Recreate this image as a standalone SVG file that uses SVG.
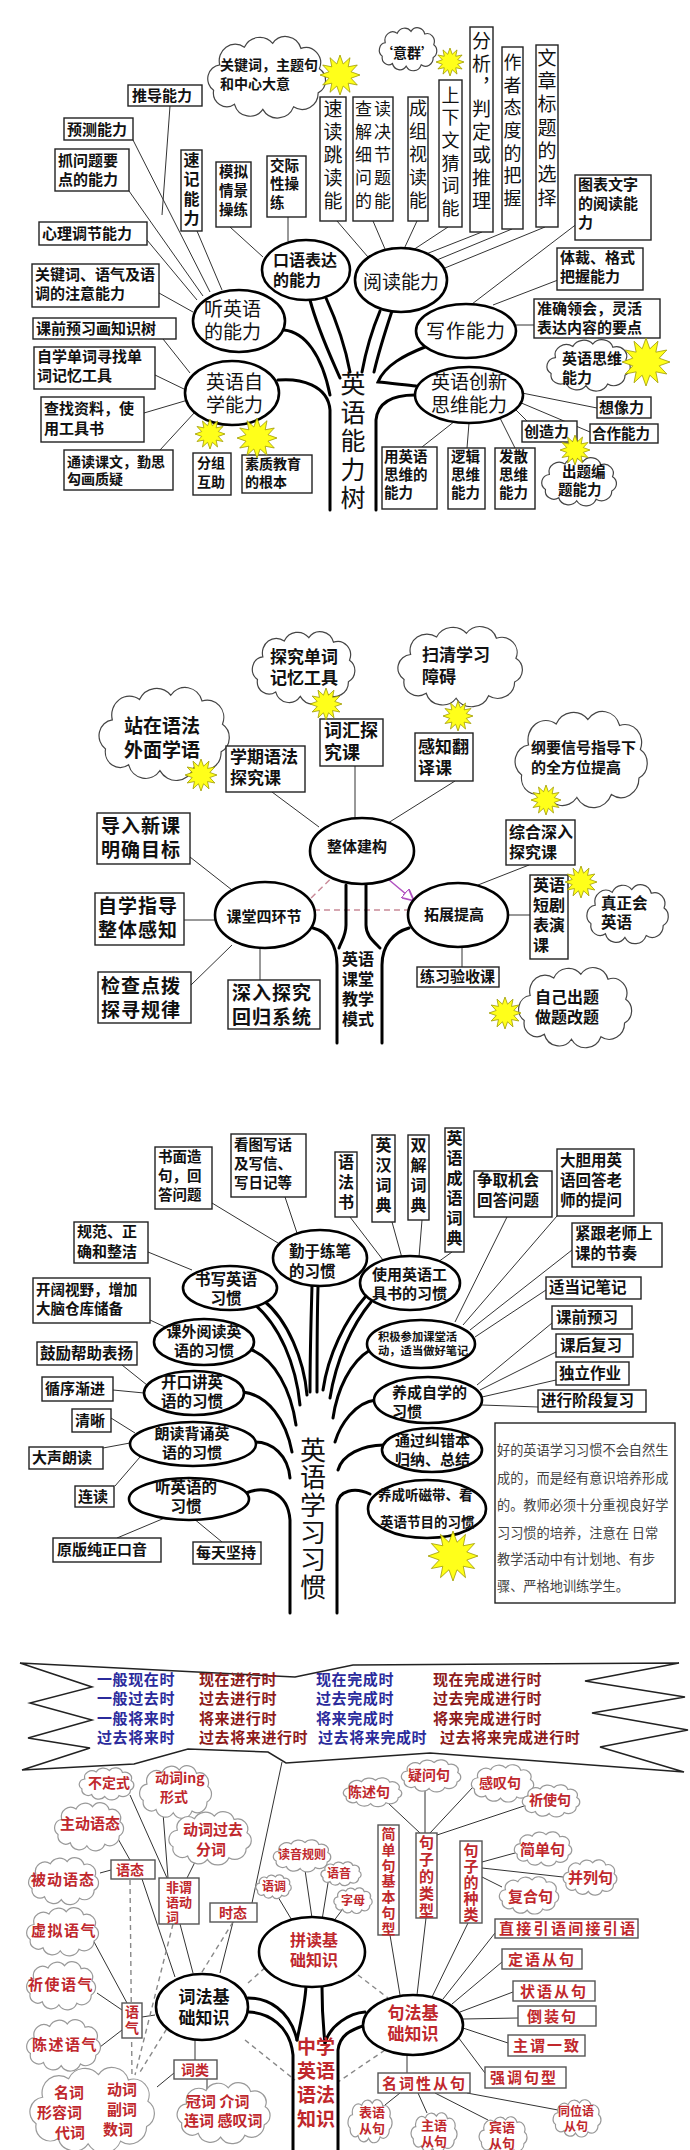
<svg xmlns="http://www.w3.org/2000/svg" width="690" height="2150" viewBox="0 0 690 2150">
<style>
.bx{fill:#fff;stroke:#222;stroke-width:1.4}
.bx2{fill:#fff;stroke:#555;stroke-width:1.4}
.el{fill:#fff;stroke:#000;stroke-width:2.6}
.cl{fill:#fff;stroke:#444;stroke-width:1.2}
.cl2{fill:#fff;stroke:#999;stroke-width:1.2}
.st{fill:#ffff1a;stroke:#a09a00;stroke-width:0.8}
.ln{fill:none;stroke:#333;stroke-width:1}
.br{fill:none;stroke:#000;stroke-width:3;stroke-linecap:round}
.ds{fill:none;stroke:#888;stroke-width:1.4;stroke-dasharray:5 4}
.dp{fill:none;stroke:#c98a98;stroke-width:1.4;stroke-dasharray:6 4}
text{font-family:"Noto Sans CJK SC","Noto Sans CJK JP",sans-serif;font-weight:700;fill:#111}
.r{fill:#c0282d}
.b{fill:#2b2b9c}
.dr{fill:#8e1b1b}
.p{font-weight:400;fill:#444}
.m{text-anchor:middle}
.tt{font-weight:400}
.v{writing-mode:vertical-rl}
</style>
<defs>
<path id="cloud" vector-effect="non-scaling-stroke" d="M12,22 A13,13 0 0 1 32,8 A14,14 0 0 1 55,5 A13,13 0 0 1 78,9 A12,12 0 0 1 93,25 A11,11 0 0 1 92,44 A13,13 0 0 1 72,55 A14,14 0 0 1 47,57 A13,13 0 0 1 24,53 A11,11 0 0 1 7,42 A11,11 0 0 1 12,22 Z"/>
<polygon id="star" vector-effect="non-scaling-stroke" points="10,0 5.5,1.6 8.66,5 4.1,4.1 5,8.66 1.6,5.5 0,10 -1.6,5.5 -5,8.66 -4.1,4.1 -8.66,5 -5.5,1.6 -10,0 -5.5,-1.6 -8.66,-5 -4.1,-4.1 -5,-8.66 -1.6,-5.5 0,-10 1.6,-5.5 5,-8.66 4.1,-4.1 8.66,-5 5.5,-1.6"/>
<marker id="ar" viewBox="0 0 10 10" refX="9" refY="5" markerWidth="8" markerHeight="8" orient="auto"><path d="M0,0 L10,5 L0,10 Z" fill="#fff" stroke="#b050c0" stroke-width="1.5"/></marker>
</defs>
<rect width="690" height="2150" fill="#fff"/>

<g id="connectors">
<g id="thin-lines" class="ln">
<path d="M170,106L162,215M133,140L210,292M129,191L203,296M147,240L197,300M159,293L193,312M197,231L222,290M163,339L190,373M155,375L186,390M144,413L188,400M160,450L195,412M230,227L263,257M288,217L288,241M337,221L368,257M373,221L385,249M417,221L404,249M448,227L410,252M482,232L421,256M512,229L432,262M545,227L440,270M578,223L472,304M558,280L493,305M534,325L516,325M597,408L522,393M590,432L519,402M527,421L514,408M422,447L455,421M467,448L469,423M515,448L500,418"/>
<path d="M272,792L319,827M355,766L355,818M455,781L388,823M190,857L232,890M184,920L215,920M191,985L232,945M260,980L260,948M529,865L478,885M509,915L530,915M462,947L462,967"/>
<path d="M212,1203L278,1243M285,1197L297,1233M148,1252L192,1270M150,1320L165,1327M122,1365L147,1385M113,1390L144,1393M111,1418L135,1433M103,1448L130,1443M115,1486L140,1457M117,1538L167,1517M222,1542L193,1518M350,1217L383,1260M392,1222L402,1258M422,1220L419,1257M452,1252L438,1262M507,1217L455,1322M557,1216L463,1325M572,1250L470,1330M546,1290L475,1337M552,1323L477,1385M556,1352L480,1390M556,1380L482,1397M538,1407L482,1405"/>
<path d="M282,1762L252,1903M130,1795L167,1878M163,1813L168,1878M195,1862L187,1878M117,1837L130,1860M100,1873L111,1870M142,1879L175,1977M180,1924L193,1973M233,1922L220,1973M93,1940L127,2003M97,1993L122,2010M100,2047L122,2030M142,2017L155,2015M195,2040L195,2060M174,2073L157,2087M207,2079L207,2090M278,1897L293,1922M305,1870L312,1918M328,1883L322,1920M342,1910L333,1922"/>
<path d="M388,1803L420,1833M425,1790L425,1833M473,1787L430,1833M527,1805L437,1835M515,1853L482,1862M563,1877L482,1868M502,1887L482,1877M390,1935L400,1995M426,1918L417,1995M468,1923L432,1997M495,1933L443,1999M502,1962L452,2004M513,1992L460,2012M518,2018L463,2019M508,2043L463,2028M485,2073L458,2037M407,2073L407,2055M400,2093L385,2105M418,2093L427,2113M435,2093L488,2120M467,2093L558,2110"/>
</g>
<g id="dashed">
<path class="dp" d="M304,905L357,853M304,910L413,910"/>
<path d="M357,853L413,900" fill="none" stroke="#b050c0" stroke-width="1.5" marker-end="url(#ar)"/>
<path class="ds" d="M130,1880L132,2078M173,1924L135,2075M233,1922L140,2072M248,1983L268,1965M358,1975L388,1998M245,2040L295,2080M385,2050L338,2082"/>
</g>
<g id="branches" class="br">
<path d="M278,380 C300,378 328,385 330,410 L330,510"/>
<path d="M284,330 C305,332 322,355 330,395"/>
<path d="M310,300 C318,330 330,355 340,378"/>
<path d="M326,298 C336,320 345,345 350,372"/>
<path d="M380,311 C372,330 366,350 362,372"/>
<path d="M392,311 C384,335 378,355 374,372"/>
<path d="M425,347 C405,355 385,365 378,382 C390,383 405,385 416,386"/>
<path d="M415,395 C395,395 378,400 376,420 L376,510"/>
<path d="M313,928 C328,932 337,945 337,965 L337,1043"/>
<path d="M346,885 L346,925 C346,935 342,940 339,948"/>
<path d="M409,928 C394,932 382,945 382,965 L382,1043"/>
<path d="M366,885 L366,925 C366,935 372,940 380,948"/>
<path d="M312,1286 C311,1320 310,1360 310,1392"/>
<path d="M318,1287 C317,1320 317,1360 317,1392"/>
<path d="M253,1303 C280,1325 296,1365 300,1405"/>
<path d="M263,1300 C288,1320 304,1360 307,1395"/>
<path d="M252,1350 C275,1360 291,1390 296,1425"/>
<path d="M243,1392 C268,1395 286,1420 292,1452"/>
<path d="M255,1442 C272,1442 288,1455 290,1478"/>
<path d="M246,1493 C265,1485 288,1492 290,1520 L290,1613"/>
<path d="M366,1296 C345,1320 328,1355 323,1390"/>
<path d="M371,1302 C352,1325 336,1360 330,1398"/>
<path d="M370,1350 C350,1362 337,1390 333,1418"/>
<path d="M376,1400 C355,1402 340,1425 335,1442"/>
<path d="M384,1445 C362,1445 342,1455 338,1470"/>
<path d="M370,1494 C355,1487 338,1490 337,1505 L337,1613"/>
<path d="M248,1998 C268,1998 290,2010 297,2040"/>
<path d="M249,2012 C268,2013 290,2025 293,2055 L293,2150"/>
<path d="M306,1986 C305,2005 300,2025 297,2040"/>
<path d="M322,1987 C322,2005 323,2025 325,2043"/>
<path d="M365,2012 C350,2013 330,2025 325,2043"/>
<path d="M366,2025 C350,2030 340,2035 338,2050 L338,2150"/>
</g>
</g>

<!-- ===== Tree 1 ===== -->
<g id="t1-title"><text class="v tt" x="353" y="371" font-size="25" letter-spacing="3.5">英语能力树</text></g>
<g id="n-cloud-guanjian"><use href="#cloud" class="cl" transform="translate(205,37) scale(1.23,1.27)"/><text font-size="14"><tspan x="220" y="70">关键词，主题句</tspan><tspan x="220" y="89">和中心大意</tspan></text></g>
<g id="n-cloud-yiqun"><use href="#cloud" class="cl" transform="translate(378,28) scale(0.6,0.67)"/><text x="407" y="58" class="m" font-size="14">‘意群’</text></g>
<g id="n-tuidao"><rect class="bx" x="128" y="85" width="74" height="21"/><text x="132" y="101" font-size="15">推导能力</text></g>
<g id="n-yuce"><rect class="bx" x="64" y="118" width="69" height="22"/><text x="67" y="135" font-size="15">预测能力</text></g>
<g id="n-zhuawenti"><rect class="bx" x="55" y="149" width="74" height="42"/><text font-size="15"><tspan x="58" y="166">抓问题要</tspan><tspan x="58" y="185">点的能力</tspan></text></g>
<g id="n-xinli"><rect class="bx" x="39" y="222" width="108" height="23"/><text x="42" y="239" font-size="15">心理调节能力</text></g>
<g id="n-guanjianci"><rect class="bx" x="32" y="264" width="127" height="43"/><text font-size="15"><tspan x="35" y="280">关键词、语气及语</tspan><tspan x="35" y="299">调的注意能力</tspan></text></g>
<g id="n-keqian"><rect class="bx" x="33" y="318" width="143" height="21"/><text x="36" y="334" font-size="15">课前预习画知识树</text></g>
<g id="n-zixuedanci"><rect class="bx" x="34" y="347" width="121" height="42"/><text font-size="15"><tspan x="37" y="362">自学单词寻找单</tspan><tspan x="37" y="381">词记忆工具</tspan></text></g>
<g id="n-chazhao"><rect class="bx" x="41" y="397" width="103" height="45"/><text font-size="15"><tspan x="44" y="414">查找资料，使</tspan><tspan x="44" y="434">用工具书</tspan></text></g>
<g id="n-tongdu"><rect class="bx" x="64" y="450" width="109" height="40"/><text font-size="14"><tspan x="67" y="467">通读课文，勤思</tspan><tspan x="67" y="484">勾画质疑</tspan></text></g>
<g id="n-fenzu"><rect class="bx" x="193" y="453" width="38" height="42"/><text font-size="14"><tspan x="197" y="468">分组</tspan><tspan x="197" y="487">互助</tspan></text></g>
<g id="n-suzhi"><rect class="bx" x="242" y="455" width="70" height="38"/><text font-size="14"><tspan x="245" y="469">素质教育</tspan><tspan x="245" y="487">的根本</tspan></text></g>
<g id="n-suji"><rect class="bx" x="181" y="150" width="21" height="81"/><text class="v" x="191.5" y="152" font-size="16" letter-spacing="3.3">速记能力</text></g>
<g id="n-moni"><rect class="bx" x="216" y="162" width="35" height="65"/><text font-size="14.5"><tspan x="219" y="177">模拟</tspan><tspan x="219" y="196">情景</tspan><tspan x="219" y="215">操练</tspan></text></g>
<g id="n-jiaoji"><rect class="bx" x="267" y="156" width="39" height="61"/><text font-size="14.5"><tspan x="270" y="171">交际</tspan><tspan x="270" y="189">性操</tspan><tspan x="270" y="208">练</tspan></text></g>
<g id="n-sudu"><rect class="bx" x="320" y="97" width="26" height="124"/><text class="v tt" x="333" y="99" font-size="19" letter-spacing="4">速读跳读能</text></g>
<g id="n-chadu"><rect class="bx" x="353" y="97" width="40" height="124"/><text class="m tt" font-size="17" letter-spacing="2"><tspan x="374" y="115">查读</tspan><tspan x="374" y="138">解决</tspan><tspan x="374" y="161">细节</tspan><tspan x="374" y="184">问题</tspan><tspan x="374" y="207">的能</tspan></text></g>
<g id="n-chengzu"><rect class="bx" x="408" y="97" width="20" height="124"/><text class="v tt" x="418" y="99" font-size="18" letter-spacing="5">成组视读能</text></g>
<g id="n-shangxia"><rect class="bx" x="439" y="80" width="23" height="147"/><text class="v tt" x="450.5" y="86" font-size="18" letter-spacing="4.6">上下文猜词能</text></g>
<g id="n-fenxi"><rect class="bx" x="470" y="27" width="23" height="205"/><text class="v tt" x="481.5" y="31" font-size="19" letter-spacing="3.9">分析，判定或推理</text></g>
<g id="n-zuozhe"><rect class="bx" x="502" y="47" width="21" height="182"/><text class="v tt" x="512.5" y="53" font-size="18" letter-spacing="4.7">作者态度的把握</text></g>
<g id="n-wenzhang"><rect class="bx" x="536" y="45" width="22" height="182"/><text class="v tt" x="547" y="48" font-size="19" letter-spacing="4.3">文章标题的选择</text></g>
<g id="n-tubiao"><rect class="bx" x="575" y="175" width="76" height="65"/><text font-size="15"><tspan x="578" y="190">图表文字</tspan><tspan x="578" y="209">的阅读能</tspan><tspan x="578" y="228">力</tspan></text></g>
<g id="n-ticai"><rect class="bx" x="557" y="248" width="86" height="42"/><text font-size="15"><tspan x="560" y="263">体裁、格式</tspan><tspan x="560" y="282">把握能力</tspan></text></g>
<g id="n-zhunque"><rect class="bx" x="534" y="299" width="126" height="39"/><text font-size="15"><tspan x="537" y="314">准确领会，灵活</tspan><tspan x="537" y="333">表达内容的要点</tspan></text></g>
<g id="n-cloud-siwei"><use href="#cloud" class="cl" transform="translate(545,340) scale(0.87,0.8)"/><text font-size="15"><tspan x="562" y="364">英语思维</tspan><tspan x="562" y="383">能力</tspan></text></g>
<g id="n-xiangxiang"><rect class="bx" x="597" y="397" width="54" height="21"/><text x="599" y="413" font-size="15">想像力</text></g>
<g id="n-chuangzao"><rect class="bx" x="522" y="421" width="55" height="21"/><text x="524" y="437" font-size="15">创造力</text></g>
<g id="n-hezuo"><rect class="bx" x="590" y="424" width="68" height="19"/><text x="592" y="439" font-size="14.5">合作能力</text></g>
<g id="n-cloud-chuti"><use href="#cloud" class="cl" transform="translate(540,458) scale(0.78,0.75)"/><text font-size="14.5"><tspan x="562" y="477">出题编</tspan><tspan x="558" y="495">题能力</tspan></text></g>
<g id="n-yongyingyu"><rect class="bx" x="382" y="447" width="55" height="62"/><text font-size="14.5"><tspan x="384" y="462">用英语</tspan><tspan x="384" y="480">思维的</tspan><tspan x="384" y="498">能力</tspan></text></g>
<g id="n-luoji"><rect class="bx" x="448" y="448" width="37" height="61"/><text font-size="14.5"><tspan x="451" y="462">逻辑</tspan><tspan x="451" y="480">思维</tspan><tspan x="451" y="498">能力</tspan></text></g>
<g id="n-fasan"><rect class="bx" x="495" y="448" width="40" height="61"/><text font-size="14.5"><tspan x="499" y="462">发散</tspan><tspan x="499" y="480">思维</tspan><tspan x="499" y="498">能力</tspan></text></g>
<g id="n-kouyu"><ellipse class="el" cx="306" cy="270" rx="44" ry="30"/><text font-size="16"><tspan x="273" y="266">口语表达</tspan><tspan x="273" y="286">的能力</tspan></text></g>
<g id="n-ting"><ellipse class="el" cx="239" cy="321" rx="46" ry="31"/><text font-size="19" class="tt"><tspan x="204" y="316">听英语</tspan><tspan x="204" y="339">的能力</tspan></text></g>
<g id="n-zixue"><ellipse class="el" cx="232" cy="393" rx="47" ry="32"/><text font-size="19" class="tt"><tspan x="206" y="389">英语自</tspan><tspan x="206" y="412">学能力</tspan></text></g>
<g id="n-yuedu"><ellipse class="el" cx="401" cy="280" rx="46" ry="32"/><text x="401" y="289" class="m tt" font-size="19">阅读能力</text></g>
<g id="n-xiezuo"><ellipse class="el" cx="466" cy="331" rx="50" ry="27"/><text x="466" y="338" class="m tt" font-size="19" letter-spacing="1">写作能力</text></g>
<g id="n-chuangxin"><ellipse class="el" cx="469" cy="395" rx="54" ry="28"/><text class="m tt" font-size="19"><tspan x="469" y="389">英语创新</tspan><tspan x="469" y="412">思维能力</tspan></text></g>
<g id="t1-stars"><use href="#star" class="st" transform="translate(340,75) scale(2)"/><use href="#star" class="st" transform="translate(450,62) scale(1.4)"/><use href="#star" class="st" transform="translate(646,362) scale(2.4)"/><use href="#star" class="st" transform="translate(575,450) scale(1.5)"/><use href="#star" class="st" transform="translate(210,434) scale(1.5)"/><use href="#star" class="st" transform="translate(257,438) scale(2)"/></g>

<!-- ===== Tree 2 ===== -->
<g id="t2-title"><text class="m" font-size="16"><tspan x="358" y="965">英语</tspan><tspan x="358" y="985">课堂</tspan><tspan x="358" y="1005">教学</tspan><tspan x="358" y="1025">模式</tspan></text></g>
<g id="n-cloud-tanjiu"><use href="#cloud" class="cl" transform="translate(250,632) scale(1.07,1.13)"/><text font-size="17"><tspan x="270" y="663">探究单词</tspan><tspan x="270" y="684">记忆工具</tspan></text></g>
<g id="n-cloud-saoqing"><use href="#cloud" class="cl" transform="translate(395,627) scale(1.3,1.25)"/><text font-size="17"><tspan x="422" y="661">扫清学习</tspan><tspan x="422" y="683">障碍</tspan></text></g>
<g id="n-cloud-zhanzai"><use href="#cloud" class="cl" transform="translate(96,688) scale(1.36,1.45)"/><text font-size="19"><tspan x="124" y="733">站在语法</tspan><tspan x="124" y="757">外面学语</tspan></text></g>
<g id="n-xueqi"><rect class="bx" x="226" y="746" width="79" height="46"/><text font-size="17"><tspan x="230" y="763">学期语法</tspan><tspan x="230" y="784">探究课</tspan></text></g>
<g id="n-cihui"><rect class="bx" x="320" y="719" width="63" height="47"/><text font-size="18"><tspan x="324" y="737">词汇探</tspan><tspan x="324" y="759">究课</tspan></text></g>
<g id="n-ganzhi"><rect class="bx" x="415" y="733" width="58" height="48"/><text font-size="17"><tspan x="418" y="753">感知翻</tspan><tspan x="418" y="774">译课</tspan></text></g>
<g id="n-cloud-gangyao"><use href="#cloud" class="cl" transform="translate(512,712) scale(1.38,1.5)"/><text font-size="15"><tspan x="531" y="753">纲要信号指导下</tspan><tspan x="531" y="773">的全方位提高</tspan></text></g>
<g id="n-zonghe"><rect class="bx" x="506" y="820" width="69" height="45"/><text font-size="16"><tspan x="509" y="838">综合深入</tspan><tspan x="509" y="858">探究课</tspan></text></g>
<g id="n-duanju"><rect class="bx" x="530" y="875" width="38" height="84"/><text font-size="16"><tspan x="533" y="891">英语</tspan><tspan x="533" y="911">短剧</tspan><tspan x="533" y="931">表演</tspan><tspan x="533" y="951">课</tspan></text></g>
<g id="n-cloud-zhenzheng"><use href="#cloud" class="cl" transform="translate(585,885) scale(0.85,0.92)"/><text font-size="15.5"><tspan x="601" y="909">真正会</tspan><tspan x="601" y="928">英语</tspan></text></g>
<g id="n-daoru"><rect class="bx" x="97" y="813" width="93" height="51"/><text font-size="19" letter-spacing="1"><tspan x="101" y="833">导入新课</tspan><tspan x="101" y="857">明确目标</tspan></text></g>
<g id="n-zixuezhidao"><rect class="bx" x="95" y="893" width="89" height="52"/><text font-size="19" letter-spacing="1"><tspan x="98" y="913">自学指导</tspan><tspan x="98" y="937">整体感知</tspan></text></g>
<g id="n-jiancha"><rect class="bx" x="98" y="972" width="93" height="51"/><text font-size="19" letter-spacing="1"><tspan x="101" y="993">检查点拨</tspan><tspan x="101" y="1017">探寻规律</tspan></text></g>
<g id="n-shenru"><rect class="bx" x="228" y="980" width="92" height="49"/><text font-size="19" letter-spacing="1"><tspan x="232" y="1000">深入探究</tspan><tspan x="232" y="1024">回归系统</tspan></text></g>
<g id="n-lianxi"><rect class="bx" x="417" y="967" width="82" height="20"/><text x="420" y="982" font-size="15">练习验收课</text></g>
<g id="n-cloud-ziji"><use href="#cloud" class="cl" transform="translate(516,968) scale(1.18,1.25)"/><text font-size="16"><tspan x="535" y="1003">自己出题</tspan><tspan x="535" y="1023">做题改题</tspan></text></g>
<g id="n-zhengti"><ellipse class="el" cx="362" cy="851" rx="52" ry="33"/><text x="357" y="852" class="m" font-size="15">整体建构</text></g>
<g id="n-ketang"><ellipse class="el" cx="265" cy="915" rx="50" ry="33"/><text x="264" y="922" class="m" font-size="15">课堂四环节</text></g>
<g id="n-tuozhan"><ellipse class="el" cx="458" cy="915" rx="50" ry="32"/><text x="454" y="920" class="m" font-size="15">拓展提高</text></g>
<g id="t2-stars"><use href="#star" class="st" transform="translate(326,704) scale(1.6)"/><use href="#star" class="st" transform="translate(458,716) scale(1.5)"/><use href="#star" class="st" transform="translate(201,775) scale(1.6)"/><use href="#star" class="st" transform="translate(546,800) scale(1.5)"/><use href="#star" class="st" transform="translate(581,882) scale(1.6)"/><use href="#star" class="st" transform="translate(505,1013) scale(1.6)"/></g>

<!-- ===== Tree 3 ===== -->
<g id="t3-title"><text class="v tt" x="313" y="1437" font-size="26" letter-spacing="1.4">英语学习习惯</text></g>
<g id="n-shumian"><rect class="bx" x="155" y="1147" width="57" height="62"/><text font-size="14.5"><tspan x="158" y="1162">书面造</tspan><tspan x="158" y="1181">句，回</tspan><tspan x="158" y="1200">答问题</tspan></text></g>
<g id="n-kantu"><rect class="bx" x="231" y="1134" width="75" height="63"/><text font-size="14.5"><tspan x="234" y="1150">看图写话</tspan><tspan x="234" y="1169">及写信、</tspan><tspan x="234" y="1188">写日记等</tspan></text></g>
<g id="n-yufashu"><rect class="bx" x="335" y="1152" width="22" height="65"/><text class="v" x="346" y="1154" font-size="16" letter-spacing="4">语法书</text></g>
<g id="n-yinghan"><rect class="bx" x="372" y="1135" width="23" height="87"/><text class="v" x="383.5" y="1137" font-size="16" letter-spacing="4">英汉词典</text></g>
<g id="n-shuangjie"><rect class="bx" x="408" y="1135" width="21" height="85"/><text class="v" x="418.5" y="1137" font-size="16" letter-spacing="4">双解词典</text></g>
<g id="n-chengyu"><rect class="bx" x="445" y="1128" width="19" height="124"/><text class="v" x="454.5" y="1130" font-size="16" letter-spacing="4">英语成语词典</text></g>
<g id="n-zhengqu"><rect class="bx" x="474" y="1171" width="78" height="46"/><text font-size="15.5"><tspan x="477" y="1186">争取机会</tspan><tspan x="477" y="1206">回答问题</tspan></text></g>
<g id="n-dadan"><rect class="bx" x="557" y="1149" width="77" height="67"/><text font-size="15.5"><tspan x="560" y="1166">大胆用英</tspan><tspan x="560" y="1186">语回答老</tspan><tspan x="560" y="1206">师的提问</tspan></text></g>
<g id="n-jingen"><rect class="bx" x="572" y="1223" width="90" height="44"/><text font-size="15.5"><tspan x="575" y="1239">紧跟老师上</tspan><tspan x="575" y="1259">课的节奏</tspan></text></g>
<g id="n-jibiji"><rect class="bx" x="546" y="1277" width="95" height="22"/><text x="549" y="1293" font-size="15.5">适当记笔记</text></g>
<g id="n-keqianyuxi"><rect class="bx" x="552" y="1306" width="80" height="23"/><text x="556" y="1323" font-size="15.5">课前预习</text></g>
<g id="n-kehou"><rect class="bx" x="556" y="1334" width="77" height="23"/><text x="560" y="1351" font-size="15.5">课后复习</text></g>
<g id="n-duli"><rect class="bx" x="556" y="1362" width="73" height="23"/><text x="559" y="1379" font-size="15.5">独立作业</text></g>
<g id="n-jieduan"><rect class="bx" x="538" y="1390" width="108" height="22"/><text x="541" y="1406" font-size="15.5">进行阶段复习</text></g>
<g id="n-note"><rect class="bx" x="495" y="1423" width="180" height="180"/><text class="p" font-size="13.2"><tspan x="497" y="1455">好的英语学习习惯不会自然生</tspan><tspan x="497" y="1483">成的，而是经有意识培养形成</tspan><tspan x="497" y="1510">的。教师必须十分重视良好学</tspan><tspan x="497" y="1538">习习惯的培养，注意在 日常</tspan><tspan x="497" y="1564">教学活动中有计划地、有步</tspan><tspan x="497" y="1591">骤、严格地训练学生。</tspan></text></g>
<g id="n-guifan"><rect class="bx" x="74" y="1222" width="74" height="41"/><text font-size="15"><tspan x="77" y="1237">规范、正</tspan><tspan x="77" y="1257">确和整洁</tspan></text></g>
<g id="n-kaikuo"><rect class="bx" x="33" y="1278" width="117" height="45"/><text font-size="14.5"><tspan x="36" y="1295">开阔视野，增加</tspan><tspan x="36" y="1314">大脑仓库储备</tspan></text></g>
<g id="n-guli"><rect class="bx" x="37" y="1342" width="100" height="23"/><text x="40" y="1359" font-size="15.5">鼓励帮助表扬</text></g>
<g id="n-xunxu"><rect class="bx" x="42" y="1377" width="71" height="24"/><text x="45" y="1394" font-size="15">循序渐进</text></g>
<g id="n-qingxi"><rect class="bx" x="72" y="1409" width="39" height="23"/><text x="75" y="1426" font-size="15">清晰</text></g>
<g id="n-dasheng"><rect class="bx" x="29" y="1447" width="74" height="22"/><text x="32" y="1463" font-size="15">大声朗读</text></g>
<g id="n-liandu"><rect class="bx" x="75" y="1486" width="39" height="21"/><text x="78" y="1502" font-size="15">连读</text></g>
<g id="n-yuanban"><rect class="bx" x="53" y="1538" width="108" height="24"/><text x="57" y="1555" font-size="15">原版纯正口音</text></g>
<g id="n-meitian"><rect class="bx" x="193" y="1542" width="68" height="22"/><text x="196" y="1558" font-size="15">每天坚持</text></g>
<g id="n-qinyu"><ellipse class="el" cx="320" cy="1258" rx="47" ry="28"/><text font-size="15.5"><tspan x="289" y="1257">勤于练笔</tspan><tspan x="289" y="1277">的习惯</tspan></text></g>
<g id="n-shuxie"><ellipse class="el" cx="230" cy="1288" rx="47" ry="22"/><text class="m" font-size="15.5"><tspan x="226" y="1285">书写英语</tspan><tspan x="226" y="1304">习惯</tspan></text></g>
<g id="n-kewai"><ellipse class="el" cx="204" cy="1342" rx="50" ry="23"/><text class="m" font-size="15"><tspan x="204" y="1337">课外阅读英</tspan><tspan x="204" y="1356">语的习惯</tspan></text></g>
<g id="n-kaikou"><ellipse class="el" cx="194" cy="1393" rx="50" ry="22"/><text class="m" font-size="15.5"><tspan x="192" y="1388">开口讲英</tspan><tspan x="192" y="1407">语的习惯</tspan></text></g>
<g id="n-langdu"><ellipse class="el" cx="193" cy="1444" rx="63" ry="22"/><text class="m" font-size="15"><tspan x="192" y="1439">朗读背诵英</tspan><tspan x="192" y="1458">语的习惯</tspan></text></g>
<g id="n-tingxg"><ellipse class="el" cx="189" cy="1499" rx="60" ry="21"/><text class="m" font-size="15.5"><tspan x="186" y="1493">听英语的</tspan><tspan x="186" y="1512">习惯</tspan></text></g>
<g id="n-shiyong"><ellipse class="el" cx="410" cy="1283" rx="50" ry="27"/><text font-size="15"><tspan x="372" y="1280">使用英语工</tspan><tspan x="372" y="1299">具书的习惯</tspan></text></g>
<g id="n-jiji"><ellipse class="el" cx="421" cy="1344" rx="54" ry="24"/><text font-size="11.3"><tspan x="378" y="1341">积极参加课堂活</tspan><tspan x="378" y="1355">动，适当做好笔记</tspan></text></g>
<g id="n-yangcheng"><ellipse class="el" cx="428" cy="1400" rx="54" ry="23"/><text font-size="15"><tspan x="392" y="1398">养成自学的</tspan><tspan x="392" y="1417">习惯</tspan></text></g>
<g id="n-jiucuo"><ellipse class="el" cx="432" cy="1450" rx="50" ry="22"/><text font-size="15"><tspan x="395" y="1446">通过纠错本</tspan><tspan x="395" y="1465">归纳、总结</tspan></text></g>
<g id="n-cidai"><ellipse class="el" cx="427" cy="1509" rx="59" ry="29"/><text font-size="13.5"><tspan x="378" y="1500">养成听磁带、看</tspan><tspan x="380" y="1527">英语节目的习惯</tspan></text></g>
<g id="t3-stars"><use href="#star" class="st" transform="translate(453,1556) scale(2.5)"/></g>

<!-- ===== Tree 4 ===== -->
<g id="n-tenses">
<polygon points="20,1663 295,1677 353,1665 679,1663 585,1681 685,1697 592,1713 688,1730 600,1747 684,1772 430,1753 286,1763 268,1752 188,1749 134,1764 22,1770 90,1748 28,1738 92,1720 30,1703 92,1687" fill="#fff" stroke="#222" stroke-width="1.5" stroke-linejoin="miter"/>
<text font-size="15" letter-spacing="0.6">
<tspan class="b" x="97" y="1685">一般现在时</tspan><tspan class="dr" x="199" y="1685">现在进行时</tspan><tspan class="b" x="316" y="1685">现在完成时</tspan><tspan class="dr" x="433" y="1685">现在完成进行时</tspan>
<tspan class="b" x="97" y="1704">一般过去时</tspan><tspan class="dr" x="199" y="1704">过去进行时</tspan><tspan class="b" x="316" y="1704">过去完成时</tspan><tspan class="dr" x="433" y="1704">过去完成进行时</tspan>
<tspan class="b" x="97" y="1724">一般将来时</tspan><tspan class="dr" x="199" y="1724">将来进行时</tspan><tspan class="b" x="316" y="1724">将来完成时</tspan><tspan class="dr" x="433" y="1724">将来完成进行时</tspan>
<tspan class="b" x="97" y="1743">过去将来时</tspan><tspan class="dr" x="199" y="1743">过去将来进行时</tspan><tspan class="b" x="318" y="1743">过去将来完成时</tspan><tspan class="dr" x="440" y="1743">过去将来完成进行时</tspan>
</text>
</g>
<g id="t4-title"><text class="r" font-size="19"><tspan x="297" y="2054">中学</tspan><tspan x="297" y="2078">英语</tspan><tspan x="297" y="2102">语法</tspan><tspan x="297" y="2126">知识</tspan></text></g>
<g id="n-budingshi"><use href="#cloud" class="cl2" transform="translate(78,1768) scale(0.57,0.5)"/><text x="88" y="1788" class="r" font-size="14">不定式</text></g>
<g id="n-ing"><use href="#cloud" class="cl2" transform="translate(138,1766) scale(0.75,0.82)"/><text class="r" font-size="14"><tspan x="155" y="1783">动词ing</tspan><tspan x="160" y="1802">形式</tspan></text></g>
<g id="n-zhudong"><use href="#cloud" class="cl2" transform="translate(53,1803) scale(0.72,0.75)"/><text x="60" y="1829" class="r" font-size="15">主动语态</text></g>
<g id="n-guoqufenci"><use href="#cloud" class="cl2" transform="translate(167,1812) scale(0.86,0.83)"/><text class="r" font-size="15"><tspan x="183" y="1835">动词过去</tspan><tspan x="196" y="1855">分词</tspan></text></g>
<g id="n-beidong"><use href="#cloud" class="cl2" transform="translate(27,1858) scale(0.73,0.73)"/><text x="31" y="1885" class="r" font-size="15" letter-spacing="1">被动语态</text></g>
<g id="n-xuni"><use href="#cloud" class="cl2" transform="translate(25,1908) scale(0.75,0.75)"/><text x="31" y="1936" class="r" font-size="15" letter-spacing="1.5">虚拟语气</text></g>
<g id="n-qishiyuqi"><use href="#cloud" class="cl2" transform="translate(25,1962) scale(0.72,0.75)"/><text x="28" y="1990" class="r" font-size="15" letter-spacing="1.5">祈使语气</text></g>
<g id="n-chenshuyuqi"><use href="#cloud" class="cl2" transform="translate(25,2020) scale(0.77,0.8)"/><text x="32" y="2050" class="r" font-size="15" letter-spacing="1.5">陈述语气</text></g>
<g id="n-yutai"><rect class="bx2" x="111" y="1860" width="44" height="19"/><text x="116" y="1875" class="r" font-size="14">语态</text></g>
<g id="n-feiwei"><rect class="bx2" x="159" y="1878" width="40" height="46"/><text class="r" font-size="13"><tspan x="166" y="1892">非谓</tspan><tspan x="166" y="1907">语动</tspan><tspan x="166" y="1922">词</tspan></text></g>
<g id="n-shitai"><rect class="bx2" x="210" y="1903" width="47" height="19"/><text x="219" y="1918" class="r" font-size="14">时态</text></g>
<g id="n-yuqi"><rect class="bx2" x="122" y="2003" width="20" height="35"/><text class="r v" x="132" y="2005" font-size="14" letter-spacing="1.5">语气</text></g>
<g id="n-cilei"><rect class="bx2" x="174" y="2060" width="43" height="19"/><text x="181" y="2075" class="r" font-size="14">词类</text></g>
<g id="n-mingci"><use href="#cloud" class="cl2" transform="translate(27,2068) scale(1.3,1.33)"/><text class="r" font-size="15"><tspan x="54" y="2098">名词</tspan><tspan x="107" y="2095">动词</tspan><tspan x="37" y="2118">形容词</tspan><tspan x="107" y="2115">副词</tspan><tspan x="55" y="2138">代词</tspan><tspan x="103" y="2135">数词</tspan></text></g>
<g id="n-guanci"><use href="#cloud" class="cl2" transform="translate(175,2083) scale(0.97,0.95)"/><text class="r" font-size="15"><tspan x="186" y="2107">冠词 介词</tspan><tspan x="184" y="2126">连词 感叹词</tspan></text></g>
<g id="n-cifa"><ellipse class="el" cx="202" cy="2007" rx="46" ry="33"/><text class="m" font-size="17"><tspan x="204" y="2003">词法基</tspan><tspan x="204" y="2024">础知识</tspan></text></g>
<g id="n-duyin"><use href="#cloud" class="cl2" transform="translate(272,1840) scale(0.6,0.5)"/><text x="278" y="1859" class="r" font-size="12">读音规则</text></g>
<g id="n-yudiao"><use href="#cloud" class="cl2" transform="translate(255,1875) scale(0.37,0.37)"/><text x="262" y="1891" class="r" font-size="12">语调</text></g>
<g id="n-yuyin"><use href="#cloud" class="cl2" transform="translate(320,1862) scale(0.42,0.37)"/><text x="327" y="1878" class="r" font-size="12">语音</text></g>
<g id="n-zimu"><use href="#cloud" class="cl2" transform="translate(333,1888) scale(0.4,0.4)"/><text x="341" y="1905" class="r" font-size="12">字母</text></g>
<g id="n-pindu"><ellipse class="el" cx="312" cy="1952" rx="53" ry="35"/><text class="r m" font-size="16"><tspan x="314" y="1946">拼读基</tspan><tspan x="314" y="1966">础知识</tspan></text></g>
<g id="n-chenshuju"><use href="#cloud" class="cl2" transform="translate(342,1778) scale(0.61,0.45)"/><text x="348" y="1797" class="r" font-size="14">陈述句</text></g>
<g id="n-yiwenju"><use href="#cloud" class="cl2" transform="translate(400,1760) scale(0.62,0.5)"/><text x="408" y="1780" class="r" font-size="14">疑问句</text></g>
<g id="n-gantanju"><use href="#cloud" class="cl2" transform="translate(470,1765) scale(0.65,0.58)"/><text x="479" y="1788" class="r" font-size="14">感叹句</text></g>
<g id="n-qishiju"><use href="#cloud" class="cl2" transform="translate(521,1785) scale(0.6,0.5)"/><text x="529" y="1805" class="r" font-size="14">祈使句</text></g>
<g id="n-jiandanjuxing"><rect class="bx2" x="378" y="1825" width="21" height="110"/><text class="r v" x="388.5" y="1827" font-size="14" letter-spacing="1.7">简单句基本句型</text></g>
<g id="n-juzileixing"><rect class="bx2" x="416" y="1833" width="21" height="85"/><text class="r v" x="426.5" y="1835" font-size="15" letter-spacing="2">句子的类型</text></g>
<g id="n-juzizhonglei"><rect class="bx2" x="460" y="1841" width="22" height="82"/><text class="r v" x="471" y="1843" font-size="15" letter-spacing="1">句子的种类</text></g>
<g id="n-jiandanju"><use href="#cloud" class="cl2" transform="translate(513,1832) scale(0.6,0.53)"/><text x="520" y="1855" class="r" font-size="15">简单句</text></g>
<g id="n-binglieju"><use href="#cloud" class="cl2" transform="translate(562,1860) scale(0.56,0.55)"/><text x="568" y="1883" class="r" font-size="15">并列句</text></g>
<g id="n-fuheju"><use href="#cloud" class="cl2" transform="translate(498,1877) scale(0.62,0.58)"/><text x="508" y="1902" class="r" font-size="15">复合句</text></g>
<g id="n-zhijie"><rect class="bx2" x="495" y="1919" width="143" height="19"/><text x="499" y="1934" class="r" font-size="15" letter-spacing="2.3">直接引语间接引语</text></g>
<g id="n-dingyu"><rect class="bx2" x="502" y="1949" width="80" height="20"/><text x="508" y="1965" class="r" font-size="15" letter-spacing="2">定语从句</text></g>
<g id="n-zhuangyu"><rect class="bx2" x="513" y="1981" width="82" height="20"/><text x="520" y="1997" class="r" font-size="15" letter-spacing="2">状语从句</text></g>
<g id="n-daozhuang"><rect class="bx2" x="518" y="2006" width="78" height="20"/><text x="527" y="2022" class="r" font-size="15" letter-spacing="2">倒装句</text></g>
<g id="n-zhuwei"><rect class="bx2" x="508" y="2035" width="77" height="21"/><text x="513" y="2051" class="r" font-size="15" letter-spacing="2">主谓一致</text></g>
<g id="n-qiangdiao"><rect class="bx2" x="485" y="2067" width="81" height="21"/><text x="490" y="2083" class="r" font-size="15" letter-spacing="2">强调句型</text></g>
<g id="n-jufa"><ellipse class="el" cx="413" cy="2025" rx="50" ry="30"/><text class="r m" font-size="17"><tspan x="413" y="2019">句法基</tspan><tspan x="413" y="2040">础知识</tspan></text></g>
<g id="n-mingcixing"><rect class="bx2" x="378" y="2073" width="92" height="20"/><text x="382" y="2089" class="r" font-size="15" letter-spacing="2">名词性从句</text></g>
<g id="n-biaoyu"><use href="#cloud" class="cl2" transform="translate(347,2100) scale(0.46,0.67)"/><text class="r" font-size="13"><tspan x="359" y="2117">表语</tspan><tspan x="359" y="2133">从句</tspan></text></g>
<g id="n-zhuyu"><use href="#cloud" class="cl2" transform="translate(410,2113) scale(0.48,0.62)"/><text class="r" font-size="13"><tspan x="421" y="2130">主语</tspan><tspan x="421" y="2146">从句</tspan></text></g>
<g id="n-binyu"><use href="#cloud" class="cl2" transform="translate(478,2117) scale(0.5,0.6)"/><text class="r" font-size="13"><tspan x="489" y="2132">宾语</tspan><tspan x="489" y="2148">从句</tspan></text></g>
<g id="n-tongwei"><use href="#cloud" class="cl2" transform="translate(552,2100) scale(0.5,0.58)"/><text class="r" font-size="12"><tspan x="558" y="2116">同位语</tspan><tspan x="564" y="2131">从句</tspan></text></g>
</svg>
